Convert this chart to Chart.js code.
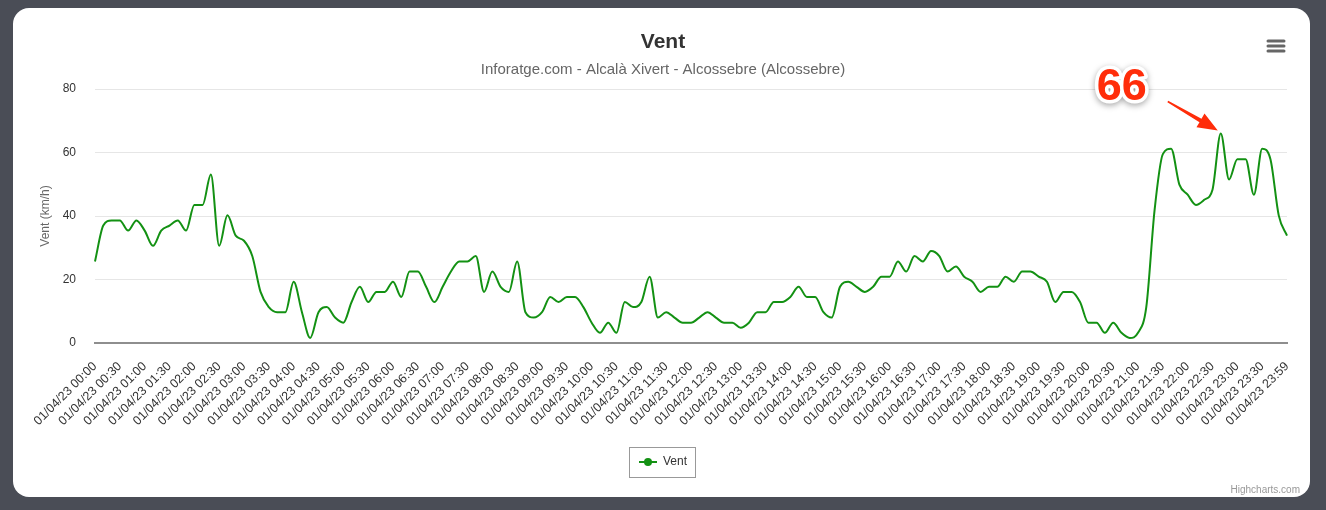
<!DOCTYPE html>
<html>
<head>
<meta charset="utf-8">
<title>Vent</title>
<script src="https://cdn.jsdelivr.net/npm/chart.js@4/dist/chart.umd.min.js"></script>
<style>
  html, body { margin: 0; padding: 0; background: #4a4d56; overflow: hidden; }
  .card { position: absolute; left: 13px; top: 8px; width: 1297px; height: 489px; background: #fff; border-radius: 16px; }
  #vent { position: absolute; left: 0; top: 0; }
</style>
</head>
<body>
<div class="card"></div>
<canvas id="vent" width="1326" height="510"></canvas>
<script>
const seriesName = "Vent";
const lineColor = "#139113";
const labelEvery = 3;

// 10 minute readings, 01/04/23 00:00 -> 23:59
const times = [];
for (let m = 0; m < 24 * 60; m += 10) {
  const hh = String(Math.floor(m / 60)).padStart(2, "0");
  const mm = String(m % 60).padStart(2, "0");
  times.push(`01/04/23 ${hh}:${mm}`);
}
times.push("01/04/23 23:59");

// km/h
const windSpeed = [
  25.7, 37.0, 38.6, 38.6, 35.4, 38.6, 35.4, 30.6, 35.4, 37.0, 38.6, 35.4,
  43.5, 43.5, 53.1, 30.6, 40.2, 33.8, 32.2, 27.4, 16.1, 11.3, 9.7, 9.7,
  19.3, 9.7, 1.6, 9.7, 11.3, 8.0, 6.4, 12.9, 17.7, 12.9, 16.1, 16.1,
  19.3, 14.5, 22.5, 22.5, 17.7, 12.9, 17.7, 22.5, 25.7, 25.7, 27.4, 16.1,
  22.5, 17.7, 16.1, 25.7, 9.7, 8.0, 9.7, 14.5, 12.9, 14.5, 14.5, 11.3,
  6.4, 3.2, 6.4, 3.2, 12.9, 11.3, 12.9, 20.9, 8.0, 9.7, 8.0, 6.4,
  6.4, 8.0, 9.7, 8.0, 6.4, 6.4, 4.8, 6.4, 9.7, 9.7, 12.9, 12.9,
  14.5, 17.7, 14.5, 14.5, 9.7, 8.0, 17.7, 19.3, 17.7, 16.1, 17.7, 20.9,
  20.9, 25.7, 22.5, 27.4, 25.7, 29.0, 27.4, 22.5, 24.1, 20.9, 19.3, 16.1,
  17.7, 17.7, 20.9, 19.3, 22.5, 22.5, 20.9, 19.3, 12.9, 16.1, 16.1, 12.9,
  6.4, 6.4, 3.2, 6.4, 3.2, 1.6, 3.2, 11.3, 41.8, 59.5, 61.2, 49.9,
  46.7, 43.5, 45.1, 48.3, 66.0, 51.5, 57.9, 57.9, 46.7, 61.2, 57.9, 40.2,
  33.8,
];

const yTicks = [0, 20, 40, 60, 80];

Chart.defaults.font.family = "'Liberation Sans', Arial, Helvetica, sans-serif";

// legend symbol: short line with a dot, like the highcharts one
const legendMarker = document.createElement("canvas");
legendMarker.width = 18;
legendMarker.height = 10;
const mk = legendMarker.getContext("2d");
mk.strokeStyle = lineColor;
mk.lineWidth = 2;
mk.beginPath();
mk.moveTo(0, 5);
mk.lineTo(18, 5);
mk.stroke();
mk.fillStyle = lineColor;
mk.beginPath();
mk.arc(9, 5, 4, 0, Math.PI * 2);
mk.fill();

const decorations = {
  id: "decorations",
  afterDraw(chart) {
    const c = chart.ctx;
    c.save();

    // legend frame
    const hb = chart.legend.legendHitBoxes[0];
    if (hb) {
      c.strokeStyle = "#999";
      c.lineWidth = 1;
      c.strokeRect(Math.round(hb.left - 10) + 0.5, Math.round(hb.top - 9) + 0.5,
        Math.round(hb.width + 18), Math.round(hb.height + 18));
    }

    // menu button
    c.strokeStyle = "#666";
    c.lineWidth = 3;
    c.lineCap = "round";
    [41, 46, 51].forEach((y) => {
      c.beginPath();
      c.moveTo(1268, y);
      c.lineTo(1284, y);
      c.stroke();
    });

    // credits
    c.fillStyle = "#999";
    c.font = "10px 'Liberation Sans', Arial, sans-serif";
    c.textAlign = "right";
    c.textBaseline = "alphabetic";
    c.fillText("Highcharts.com", 1300, 493);

    // peak annotation
    const peak = Math.max(...windSpeed);
    const peakIdx = windSpeed.indexOf(peak);
    const px = chart.scales.x.getPixelForValue(peakIdx);
    const py = chart.scales.y.getPixelForValue(peak);

    const tip = { x: px - 3, y: py - 3 };
    const tail = { x: px - 53, y: py - 32 };
    const len = Math.hypot(tip.x - tail.x, tip.y - tail.y);
    const ux = (tip.x - tail.x) / len;
    const uy = (tip.y - tail.y) / len;
    const nx = -uy;
    const ny = ux;
    const bx = tip.x - ux * 20;
    const by = tip.y - uy * 20;
    c.fillStyle = "#ff2d0a";
    c.beginPath();
    c.moveTo(tail.x + nx * 0.8, tail.y + ny * 0.8);
    c.lineTo(bx + nx * 2, by + ny * 2);
    c.lineTo(bx + nx * 8, by + ny * 8);
    c.lineTo(tip.x, tip.y);
    c.lineTo(bx - nx * 8, by - ny * 8);
    c.lineTo(bx - nx * 2, by - ny * 2);
    c.lineTo(tail.x - nx * 0.8, tail.y - ny * 0.8);
    c.closePath();
    c.fill();

    c.font = "bold 45px 'Liberation Sans', Arial, sans-serif";
    c.textAlign = "center";
    c.lineJoin = "round";
    c.shadowColor = "rgba(0,0,0,0.35)";
    c.shadowBlur = 6;
    c.shadowOffsetY = 2;
    c.strokeStyle = "#fff";
    c.lineWidth = 7;
    c.strokeText(String(Math.round(peak)), px - 99, py - 33);
    c.shadowColor = "transparent";
    c.fillStyle = "#ff2d0a";
    c.fillText(String(Math.round(peak)), px - 99, py - 33);

    c.restore();
  },
};

new Chart(document.getElementById("vent"), {
  type: "line",
  data: {
    labels: times,
    datasets: [
      {
        label: seriesName,
        data: windSpeed,
        borderColor: lineColor,
        backgroundColor: lineColor,
        borderWidth: 2,
        pointRadius: 0,
        pointHoverRadius: 4,
        cubicInterpolationMode: "monotone",
        fill: false,
      },
    ],
  },
  options: {
    responsive: false,
    animation: false,
    layout: { padding: { left: 13, right: 13, top: 8, bottom: 32 } },
    plugins: {
      title: {
        display: true,
        text: "Vent",
        color: "#333",
        font: { size: 21, weight: "bold" },
        padding: { top: 22, bottom: 3 },
      },
      subtitle: {
        display: true,
        text: "Inforatge.com - Alcalà Xivert - Alcossebre (Alcossebre)",
        color: "#666",
        font: { size: 15 },
        padding: { top: 2.5, bottom: 10.3 },
      },
      legend: {
        position: "bottom",
        labels: {
          usePointStyle: true,
          pointStyle: legendMarker,
          pointStyleWidth: 18,
          color: "#333",
          font: { size: 12 },
          padding: 10,
        },
      },
      tooltip: { mode: "index", intersect: false },
    },
    scales: {
      x: {
        grid: { display: false, drawTicks: false },
        border: { display: true, color: "#8e8e8e", width: 2 },
        ticks: {
          autoSkip: false,
          minRotation: 45,
          maxRotation: 45,
          padding: 16,
          color: "#333",
          font: { size: 12.5 },
          callback(value, index) {
            return index % labelEvery === 0 ? this.getLabelForValue(value) : "";
          },
        },
        afterFit(scale) {
          scale.height = 103;
          scale.paddingRight = 39;
        },
      },
      y: {
        min: yTicks[0],
        max: yTicks[yTicks.length - 1],
        ticks: { stepSize: yTicks[1] - yTicks[0], padding: 19, color: "#333", font: { size: 12 } },
        grid: { color: "#e6e6e6", drawTicks: false },
        border: { display: false },
        title: {
          display: true,
          text: "Vent (km/h)",
          color: "#666",
          font: { size: 12 },
          padding: { top: 25, bottom: 0 },
        },
        afterFit(scale) {
          scale.width = 82;
        },
      },
    },
  },
  plugins: [decorations],
});
</script>
</body>
</html>
